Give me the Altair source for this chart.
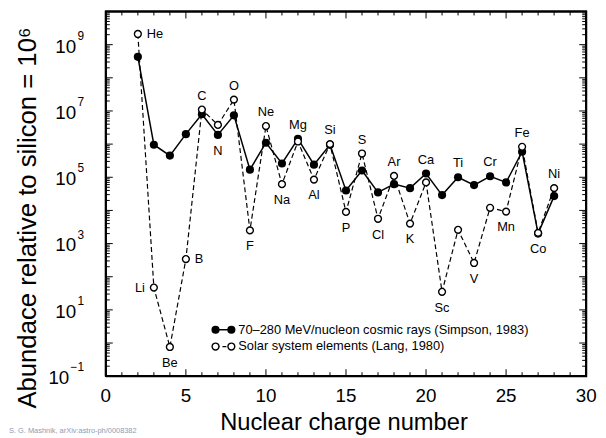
import altair as alt
import pandas as pd
import numpy as np

# ---------------- data ----------------
Z = list(range(2, 29))
symbols = ["He", "Li", "Be", "B", "C", "N", "O", "F", "Ne", "Na", "Mg", "Al", "Si", "P",
           "S", "Cl", "Ar", "K", "Ca", "Sc", "Ti", "V", "Cr", "Mn", "Fe", "Co", "Ni"]
cosmic = [4.3e8, 9.6e5, 4.5e5, 2.0e6, 8.0e6, 1.9e6, 7.4e6, 1.7e5, 1.1e6, 2.6e5, 1.45e6,
          2.4e5, 9.5e5, 4.0e4, 1.6e5, 3.5e4, 6.2e4, 4.7e4, 1.3e5, 2.9e4, 1.0e5, 5.8e4,
          1.07e5, 7.0e4, 5.9e5, 2.0e3, 2.7e4]
solar = [2.1e9, 47, 0.76, 340, 1.1e7, 3.8e6, 2.2e7, 2.5e3, 3.5e6, 6.2e4, 1.2e6, 8.5e4,
         1.0e6, 9.0e3, 5.2e5, 5.6e3, 1.1e5, 4.0e3, 7.0e4, 35, 2.6e3, 260, 1.2e4, 9.2e3,
         8.3e5, 2.1e3, 4.7e4]
label_side = ["right", "left", "below", "right", "above", "below", "above", "below",
              "above", "below", "above", "below", "above", "below", "above", "below",
              "above", "below", "above", "below", "above", "below", "above", "below",
              "above", "below", "above"]

x_tick_labels = [0, 5, 10, 15, 20, 25, 30]
y_exponents = ["\u22121", "1", "3", "5", "7", "9"]
legend_labels = ["70\u2013280 MeV/nucleon cosmic rays (Simpson, 1983)",
                 "Solar system elements (Lang, 1980)"]
x_title = "Nuclear charge number"
y_title = "Abundace relative to silicon = 10\u2076"
caption = "S. G. Mashnik, arXiv:astro-ph/0008382"
x_range = [0, 30]
y_range = [0.1, 1e10]

# ---------------- layout ----------------
W, H = 486, 369
FONT = "Liberation Sans"

df = pd.DataFrame({"z": Z, "sym": symbols, "cosmic": cosmic, "solar": solar,
                   "side": label_side})
df["hi"] = df[["cosmic", "solar"]].max(axis=1)
df["lo"] = df[["cosmic", "solar"]].min(axis=1)
df["anchor"] = np.where(df.side == "above", df.hi,
                        np.where(df.side == "below", df.lo, df.solar))

xs = alt.Scale(domain=x_range, nice=False, zero=False)
ys = alt.Scale(type="log", domain=y_range, nice=False)


def X(f):
    return alt.X(f, type="quantitative", scale=xs, axis=None)


def Y(f):
    return alt.Y(f, type="quantitative", scale=ys, axis=None)


base = alt.Chart(df)
solar_line = base.mark_line(color="black", strokeWidth=1.2, strokeDash=[5, 3]).encode(
    x=X("z"), y=Y("solar"))
cosmic_line = base.mark_line(color="black", strokeWidth=1.5).encode(x=X("z"), y=Y("cosmic"))
cosmic_pts = base.mark_circle(color="black", size=68, opacity=1).encode(x=X("z"), y=Y("cosmic"))
solar_pts = base.mark_circle(fill="white", stroke="black", strokeWidth=1.4, size=48,
                             opacity=1).encode(x=X("z"), y=Y("solar"))

lab_kw = dict(font=FONT, fontSize=13, color="black", baseline="middle")
lab_above = base.transform_filter("datum.side == 'above'").mark_text(dy=-14, **lab_kw).encode(
    x=X("z"), y=Y("anchor"), text="sym:N")
lab_below = base.transform_filter("datum.side == 'below'").mark_text(dy=16, **lab_kw).encode(
    x=X("z"), y=Y("anchor"), text="sym:N")
lab_left = base.transform_filter("datum.side == 'left'").mark_text(
    dx=-9, align="right", **lab_kw).encode(x=X("z"), y=Y("anchor"), text="sym:N")
lab_right = base.transform_filter("datum.side == 'right'").mark_text(
    dx=9, align="left", **lab_kw).encode(x=X("z"), y=Y("anchor"), text="sym:N")

# ---------------- frame: native axis domain lines plus a closed path ----------------
dom = dict(domain=True, domainColor="black", domainWidth=2, domainOpacity=1,
           ticks=False, labels=False, grid=False, title=None)
frame_df = pd.DataFrame({
    "fx": [x_range[0], x_range[1], x_range[1], x_range[0], x_range[0]],
    "fy": [y_range[0], y_range[0], y_range[1], y_range[1], y_range[0]],
    "k": [0, 1, 2, 3, 4],
})
frame = alt.Chart(frame_df).mark_line(color="black", strokeWidth=2.2,
                                      strokeJoin="miter").encode(
    x=alt.X("fx:Q", scale=xs, axis=alt.Axis(orient="bottom", **dom)),
    y=alt.Y("fy:Q", scale=ys, axis=alt.Axis(orient="left", **dom)),
    order="k:Q")

# ---------------- ticks (inward, mirrored) ----------------
one = pd.DataFrame({"a": [0]})
x_major = [5, 10, 15, 20, 25]
x_minor = [v for v in range(1, 30) if v % 5 != 0]
y_major = [10.0 ** k for k in range(0, 10)]
y_minor = [m * 10.0 ** k for k in range(-1, 10) for m in range(2, 10)]

tk = dict(color="black", strokeWidth=1)
ticks = []
for vals, ln in [(x_major, 7), (x_minor, 4)]:
    d = alt.Chart(pd.DataFrame({"v": vals}))
    ticks.append(d.mark_rule(**tk).encode(x=X("v"), y=alt.value(H), y2=alt.value(H - ln)))
    ticks.append(d.mark_rule(**tk).encode(x=X("v"), y=alt.value(0), y2=alt.value(ln)))
for vals, ln in [(y_major, 7), (y_minor, 4)]:
    d = alt.Chart(pd.DataFrame({"v": vals}))
    ticks.append(d.mark_rule(**tk).encode(y=Y("v"), x=alt.value(0), x2=alt.value(ln)))
    ticks.append(d.mark_rule(**tk).encode(y=Y("v"), x=alt.value(W), x2=alt.value(W - ln)))

# ---------------- axis labels ----------------
xl = alt.Chart(pd.DataFrame({"v": x_tick_labels})).mark_text(
    font=FONT, fontSize=19, baseline="middle", color="black").encode(
    x=X("v"), y=alt.value(H + 20), text="v:Q")

ydf = pd.DataFrame({"e": y_exponents})
ylab_base = alt.Chart(ydf).transform_calculate(
    val="pow(10, toNumber(replace(datum.e, '\u2212', '-')))",
    bx="-23 - 7 * length(datum.e)",
    b="'10'")
y_base_txt = ylab_base.mark_text(font=FONT, fontSize=19, align="right", baseline="middle",
                                 dy=2, color="black").encode(
    x=alt.X("bx:Q", scale=None, axis=None), y=Y("val"), text="b:N")
y_exp_txt = ylab_base.mark_text(font=FONT, fontSize=12, align="right", baseline="middle",
                                dy=-9, color="black").encode(
    x=alt.value(-22), y=Y("val"), text="e:N")

xt = alt.Chart(pd.DataFrame({"t": [x_title]})).mark_text(
    font=FONT, fontSize=24, baseline="middle", color="black").encode(
    x=alt.value(W / 2 - 2), y=alt.value(H + 47), text="t:N")
yt = alt.Chart(pd.DataFrame({"t": [y_title]})).mark_text(
    font=FONT, fontSize=26, baseline="middle", angle=270, color="black").encode(
    x=alt.value(-79), y=alt.value(209), text="t:N")
cap = alt.Chart(pd.DataFrame({"t": [caption]})).mark_text(
    font=FONT, fontSize=7.5, align="left", baseline="middle", color="#8d9bb6").encode(
    x=alt.value(-98), y=alt.value(H + 55), text="t:N")

# ---------------- legend ----------------
leg = []
ly = [322, 339]
mx = [111, 127]
leg.append(alt.Chart(one).mark_rule(color="black", strokeWidth=1.5).encode(
    x=alt.value(mx[0]), x2=alt.value(mx[1]), y=alt.value(ly[0])))
leg.append(alt.Chart(one).mark_rule(color="black", strokeWidth=1.2, strokeDash=[4, 3]).encode(
    x=alt.value(mx[0]), x2=alt.value(mx[1]), y=alt.value(ly[1])))
for xx in mx:
    leg.append(alt.Chart(one).mark_circle(color="black", size=68, opacity=1).encode(
        x=alt.value(xx), y=alt.value(ly[0])))
    leg.append(alt.Chart(one).mark_circle(fill="white", stroke="black", strokeWidth=1.4,
                                          size=48, opacity=1).encode(
        x=alt.value(xx), y=alt.value(ly[1])))
for i, t in enumerate(legend_labels):
    leg.append(alt.Chart(pd.DataFrame({"t": [t]})).mark_text(
        font=FONT, fontSize=13, align="left", baseline="middle", color="black").encode(
        x=alt.value(mx[1] + 7), y=alt.value(ly[i]), text="t:N"))

chart = alt.layer(
    frame, *ticks, solar_line, cosmic_line, cosmic_pts, solar_pts,
    lab_above, lab_below, lab_left, lab_right,
    xl, y_base_txt, y_exp_txt, xt, yt, cap, *leg
).properties(
    width=W, height=H,
    padding={"left": 99, "top": 1, "right": 12, "bottom": 60},
    autosize=alt.AutoSizeParams(type="none"),
).configure(font=FONT).configure_view(stroke="black", strokeWidth=1.8)

chart.save("out.html", embed_options={"renderer": "svg", "actions": False})
